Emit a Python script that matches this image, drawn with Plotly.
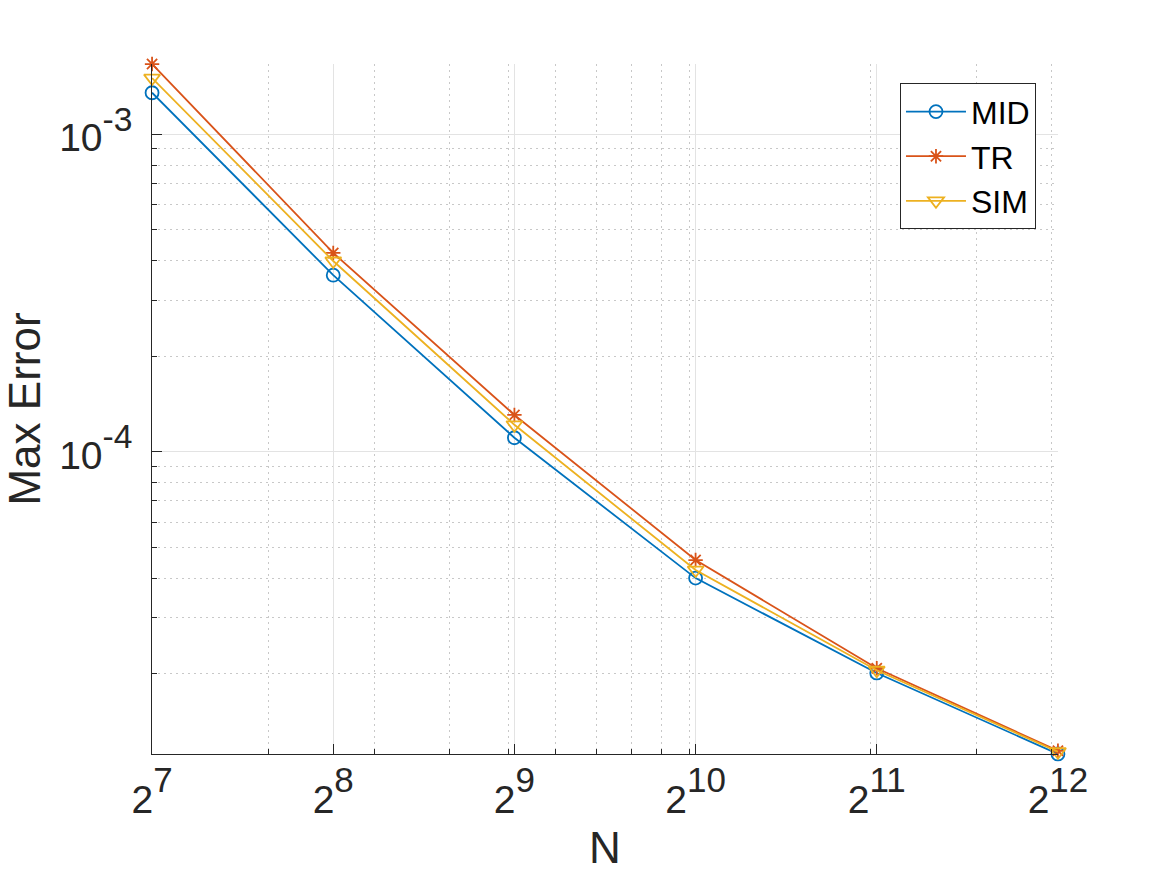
import math
import plotly.graph_objects as go

N = [128, 256, 512, 1024, 2048, 4096]
mid_err = [1.352e-3, 3.60e-4, 1.107e-4, 4.00e-5, 2.01e-5, 1.117e-5]
tr_err = [1.665e-3, 4.23e-4, 1.306e-4, 4.56e-5, 2.08e-5, 1.143e-5]
sim_err = [1.503e-3, 3.99e-4, 1.216e-4, 4.24e-5, 2.05e-5, 1.135e-5]

x_tickvals = [128, 256, 512, 1024, 2048, 4096]
x_exponents = ["7", "8", "9", "10", "11", "12"]
x_minor = [200, 300, 400, 500, 600, 700, 800, 900, 1000, 2000, 3000, 4000]
y_tickvals = [1e-4, 1e-3]
y_exponents = ["-4", "-3"]
y_minor = [2e-5, 3e-5, 4e-5, 5e-5, 6e-5, 7e-5, 8e-5, 9e-5,
           2e-4, 3e-4, 4e-4, 5e-4, 6e-4, 7e-4, 8e-4, 9e-4]

x_ticktext = ['<span style="font-size:39px">2</span><sup>%s</sup>' % e for e in x_exponents]
y_ticktext = ['<span style="font-size:39px">10</span><sup>%s</sup>' % e for e in y_exponents]

blue = "#0072BD"
orange = "#D95319"
yellow = "#EDB120"
axc = "#262626"

fig = go.Figure()
fig.add_trace(go.Scatter(x=N, y=mid_err, name="MID", mode="lines+markers", cliponaxis=False,
                         line=dict(color=blue, width=1.8),
                         marker=dict(symbol="circle-open", size=13, color=blue, line=dict(width=1.8, color=blue))))
fig.add_trace(go.Scatter(x=N, y=tr_err, name="TR", mode="lines+markers", cliponaxis=False,
                         line=dict(color=orange, width=1.8),
                         marker=dict(symbol="asterisk-open", size=12, color=orange, line=dict(width=1.8, color=orange))))
fig.add_trace(go.Scatter(x=N, y=sim_err, name="SIM", mode="lines+markers", cliponaxis=False,
                         line=dict(color=yellow, width=1.8),
                         marker=dict(symbol="triangle-down-open", size=14, color=yellow, line=dict(width=1.8, color=yellow))))

fig.update_layout(
    width=1167, height=875,
    margin=dict(l=152, r=109, t=64, b=121, autoexpand=False),
    paper_bgcolor="white", plot_bgcolor="white",
    font=dict(family="Liberation Sans, Arial, Helvetica, sans-serif", color=axc),
    showlegend=True,
    legend=dict(x=0.9757, y=0.972, xanchor="right", yanchor="top",
                bgcolor="white", bordercolor=axc, borderwidth=1,
                font=dict(size=32, color="black"), itemwidth=60,
                tracegroupgap=0),
)

minor_dash = "2px,4px"
eps = 1e-4

fig.update_xaxes(
    type="log",
    range=[math.log10(128) - eps, math.log10(4096) + eps],
    tickmode="array", tickvals=x_tickvals, ticktext=x_ticktext,
    tickfont=dict(size=50, color=axc),
    ticks="inside", ticklen=10, tickwidth=1, tickcolor=axc,
    showline=True, linecolor=axc, linewidth=1, mirror=False,
    showgrid=True, gridcolor="#e3e3e3", gridwidth=1,
    zeroline=False,
    minor=dict(tickmode="array", tickvals=x_minor, ticks="inside", ticklen=5,
               tickcolor=axc, tickwidth=1, showgrid=True, gridcolor="#c8c8c8",
               griddash=minor_dash, gridwidth=1),
    title=dict(text="N", font=dict(size=44, color=axc), standoff=12),
    ticklabelstandoff=-2,
    automargin=False,
)
fig.update_yaxes(
    type="log",
    range=[math.log10(1.117e-5) - eps, math.log10(1.665e-3) + eps],
    tickmode="array", tickvals=y_tickvals, ticktext=y_ticktext,
    tickfont=dict(size=48, color=axc),
    ticks="inside", ticklen=10, tickwidth=1, tickcolor=axc,
    showline=True, linecolor=axc, linewidth=1, mirror=False,
    showgrid=True, gridcolor="#e3e3e3", gridwidth=1,
    zeroline=False,
    minor=dict(tickmode="array", tickvals=y_minor, ticks="inside", ticklen=5,
               tickcolor=axc, tickwidth=1, showgrid=True, gridcolor="#c8c8c8",
               griddash=minor_dash, gridwidth=1),
    title=dict(text="Max Error", font=dict(size=44, color=axc), standoff=5),
    ticklabelstandoff=9,
    automargin=False,
)

fig.write_html("out.html")
